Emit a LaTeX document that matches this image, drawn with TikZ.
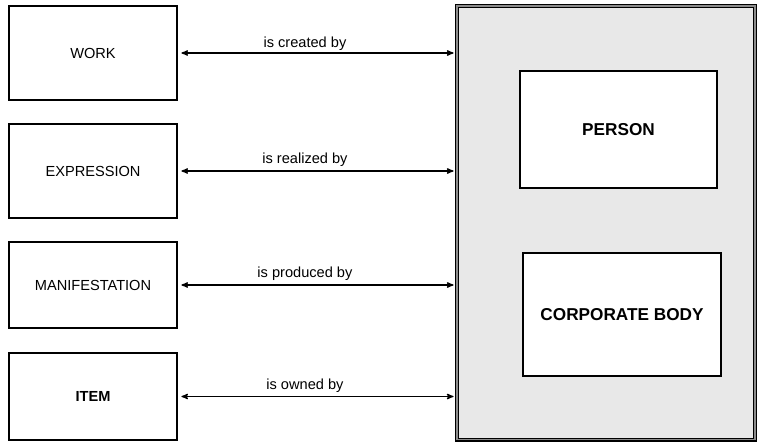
\documentclass[tikz,border=0pt]{standalone}
\usepackage{fontspec}
\setmainfont{Liberation Sans}
\usetikzlibrary{arrows,calc}

\begin{document}
\begin{tikzpicture}[
        %We set the units (1 unit = 1 pixel, y downwards) and define some styles
        x=1pt, y=-1pt,
        every node/.style={font=\fontsize{14.6}{17}\selectfont},
        entity/.style={draw, fill=white, line width=2.8pt, minimum width=168pt},
        agent/.style={entity, font=\fontsize{17.2}{20}\selectfont\bfseries},
        relation/.style={line width=1.3pt, <->, >=stealth', shorten <=3pt},
        group/.style={draw, double=black!45, double distance=1.2pt, line width=1.4pt,
            fill=black!9, outer sep=3.5pt}
     ]
    % Size of the page
    \useasboundingbox (0,0) rectangle (759,444);

    % The responsible entities are drawn
    \node[group, minimum width=298pt, minimum height=433.5pt] (agents) at (606,222.75) {};
    \node[agent, minimum width=197pt, minimum height=117pt] (person) at (618.5,129.5) {PERSON};
    \node[agent, minimum width=198pt, minimum height=123pt] (corporate) at (622,314.5) {CORPORATE BODY};

    % The products are drawn
    \node[entity, minimum height=94pt] (work) at (93,53) {WORK};
    \node[entity, minimum height=94pt] (expression) at (93,171) {EXPRESSION};
    \node[entity, minimum height=86pt] (manifestation) at (93,285) {MANIFESTATION};
    \node[entity, minimum height=87pt, font=\fontsize{14.6}{17}\selectfont\bfseries] (item) at (93,396.5) {ITEM};

    % The relationships are added
    \draw[relation] (work.east) -- (work.east -| agents.west)
        node[above, pos=.46, yshift=-1.5pt] (created) {is created by};
    \draw[relation] (expression.east) -- (expression.east -| agents.west)
        node[above, pos=.46] (realized) {is realized by};
    \draw[relation] (manifestation.east) -- (manifestation.east -| agents.west)
        node[above, pos=.46] (produced) {is produced by};
    \draw[relation] (item.east) -- (item.east -| agents.west)
        node[above, pos=.46] (owned) {is owned by};
\end{tikzpicture}
\end{document}
